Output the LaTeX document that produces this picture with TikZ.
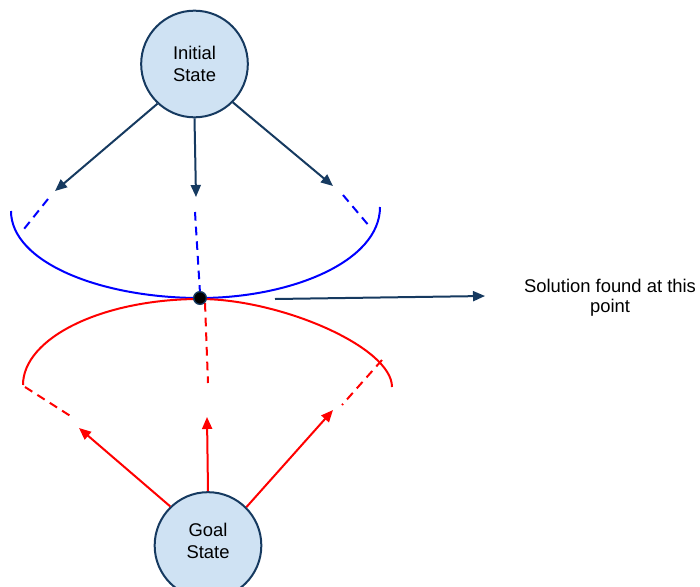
\documentclass[tikz,border=0pt]{standalone}
\usepackage{fontspec}
\setmainfont{Liberation Sans}
\usetikzlibrary{arrows.meta}
\definecolor{navy}{RGB}{22,58,96}
\definecolor{statefill}{RGB}{207,226,243}
\definecolor{frontblue}{RGB}{0,0,255}
\definecolor{frontred}{RGB}{255,0,0}
\tikzset{
  state/.style={circle, draw=navy, line width=1.5pt, fill=statefill,
    minimum size=80pt, inner sep=0pt, align=center,
    font=\fontsize{13.8}{16.3}\selectfont},
  fwdarrow/.style={draw=navy, line width=1.5pt,
    -{Triangle[length=9pt,width=7.5pt]}},
  bwdarrow/.style={draw=frontred, line width=1.5pt,
    -{Triangle[length=9pt,width=7.5pt]}},
  fwddash/.style={draw=frontblue, line width=1.5pt, dash pattern=on 6.5pt off 4.5pt},
  bwddash/.style={draw=frontred, line width=1.5pt, dash pattern=on 6.5pt off 4.5pt},
  frontier/.style={line width=1.5pt},
  meetdot/.style={circle, fill=black, draw=navy, line width=1pt,
    minimum size=9.5pt, inner sep=0pt},
  note/.style={align=center, font=\fontsize{13.8}{15}\selectfont}
}
\begin{document}
\begin{tikzpicture}[x=0.75pt, y=-0.75pt]
  \useasboundingbox (0,0) rectangle (700,586);

  % start and goal states
  \node[state] (init) at (194.5,64) {Initial\\State};
  \node[state, text depth=7pt] (goal) at (208,545.5) {Goal\\State};

  % forward search front (from the initial state)
  \draw[frontier, frontblue] (11,211) .. controls (11,262) and (100,298) .. (200,298)
    .. controls (290,298) and (380,262) .. (380,207);
  % backward search front (from the goal state)
  \draw[frontier, frontred] (23,385) .. controls (23,338) and (102,299) .. (200,299)
    .. controls (280,299) and (392,347) .. (392,387);

  % forward expansion
  \coordinate (fl) at (55,191);
  \coordinate (fm) at (196,197);
  \coordinate (fr) at (333,186);
  \draw[fwdarrow] (init.-133) -- (fl);
  \draw[fwdarrow] (init.-90) -- (fm);
  \draw[fwdarrow] (init.-45) -- (fr);

  \coordinate (fla) at (48,199);  \coordinate (flb) at (24,229);
  \coordinate (fma) at (195,212); \coordinate (fmb) at (200,293);
  \coordinate (fra) at (343,195); \coordinate (frb) at (370,227);
  \draw[fwddash] (fla) -- (flb);
  \draw[fwddash] (fma) -- (fmb);
  \draw[fwddash] (fra) -- (frb);

  % backward expansion
  \coordinate (bl) at (79,428);
  \coordinate (bm) at (207,417);
  \coordinate (br) at (333,410);
  \draw[bwdarrow] (goal.134) -- (bl);
  \draw[bwdarrow] (goal.90) -- (bm);
  \draw[bwdarrow] (goal.45) -- (br);

  \coordinate (bla) at (25,387);  \coordinate (blb) at (72,417);
  \coordinate (bma) at (205,303); \coordinate (bmb) at (208,383);
  \coordinate (bra) at (382,360); \coordinate (brb) at (342,405);
  \draw[bwddash] (bla) -- (blb);
  \draw[bwddash] (bma) -- (bmb);
  \draw[bwddash] (bra) -- (brb);

  % meeting point of the two searches
  \node[meetdot] (meet) at (200,298) {};

  \node[note] (sol) at (610,298) {Solution found at this\\point};
  \coordinate (solfrom) at (275,299);
  \coordinate (solto) at (485,296);
  \draw[fwdarrow] (solfrom) -- (solto);
\end{tikzpicture}
\end{document}
